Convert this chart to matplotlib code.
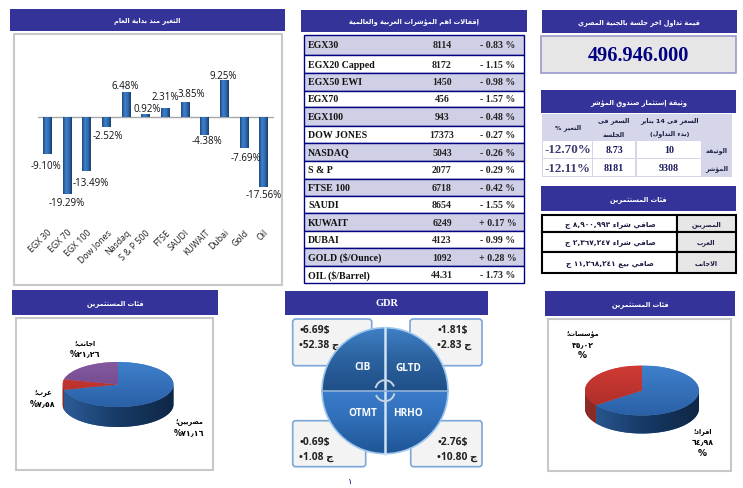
import unicodedata
import numpy as np
import matplotlib
matplotlib.use("Agg")
import matplotlib.pyplot as plt
from matplotlib.colors import LinearSegmentedColormap
from matplotlib.patches import Rectangle, Wedge, Arc, FancyBboxPatch, PathPatch
from matplotlib.path import Path

W, H = 743, 489
NAVY = "#333399"

# year to date bars
bar_names = ["EGX 30", "EGX 70", "EGX 100", "Dow Jones", "Nasdaq", "S & P 500", "FTSE",
             "SAUDI", "KUWAIT", "Dubai", "Gold", "Oil"]
bar_values = [-9.10, -19.29, -13.49, -2.52, 6.48, 0.92, 2.31, 3.85, -4.38, 9.25, -7.69, -17.56]
label_dx = [-1, 0, 4, 2, -1, 2, 0, 6, 2, -1, 2, 0]
label_dy = [12, 8, 12, 8, 6, 5, 12, 8, 6, 5, 10, 7]

# index table
index_names = ["EGX30", "EGX20 Capped", "EGX50 EWI", "EGX70", "EGX100", "DOW JONES", "NASDAQ",
               "S & P", "FTSE 100", "SAUDI", "KUWAIT", "DUBAI", "GOLD ($/Ounce)", "OIL ($/Barrel)"]
index_close = ["8114", "8172", "1450", "456", "943", "17373", "5043",
               "2077", "6718", "8654", "6249", "4123", "1092", "44.31"]
index_change = ["- 0.83 %", "- 1.15 %", "- 0.98 %", "- 1.57 %", "- 0.48 %", "- 0.27 %", "- 0.26 %",
                "- 0.29 %", "- 0.42 %", "- 1.55 %", "+ 0.17 %", "- 0.99 %", "+ 0.28 %", "- 1.73 %"]

# fund table
fund_rows = ["الوثيقة", "المؤشر"]
fund_start = ["10", "9308"]
fund_session = ["8.73", "8181"]
fund_change = ["-12.70%", "-12.11%"]

# investor table
investor_names = ["المصريين", "العرب", "الاجانب"]
investor_net = ["صافي شراء", "صافي شراء", "صافي بيع"]
investor_amount = ["٨,٩٠٠,٩٩٣", "٢,٣٦٧,٢٤٧", "١١,٢٦٨,٢٤١"]

# pies
pie1_values = [71.16, 7.58, 21.26]
pie2_values = [64.98, 35.02]

# GDR quadrants, clockwise from top right
gdr_names = ["GLTD", "HRHO", "OTMT", "CIB"]
gdr_usd = ["1.81$", "2.76$", "0.69$", "6.69$"]
gdr_egp = ["2.83", "10.80", "1.08", "52.38"]

RIGHT_ONLY = set("اأإآدذرزوؤةى")
NO_JOIN = set("ء")
MIRROR = {"(": ")", ")": "("}


def is_arabic_letter(ch):
    return "\u0621" <= ch <= "\u064a"


def shape_word(word):
    """Turn one logical Arabic word into visual order presentation forms."""
    word = word.replace("لا", "\ufefb").replace("لأ", "\ufef7").replace("لإ", "\ufef9")
    out = []
    for i, ch in enumerate(word):
        prev_ch = word[i - 1] if i > 0 else ""
        next_ch = word[i + 1] if i + 1 < len(word) else ""
        joins_prev = prev_ch and is_arabic_letter(prev_ch) and prev_ch not in RIGHT_ONLY | NO_JOIN
        if ch == "\ufefb":
            out.append("\ufefc" if joins_prev else ch)
            continue
        if ch == "\ufef7":
            out.append("\ufef8" if joins_prev else ch)
            continue
        if ch == "\ufef9":
            out.append("\ufefa" if joins_prev else ch)
            continue
        if not is_arabic_letter(ch):
            out.append(MIRROR.get(ch, ch))
            continue
        joins_next = (next_ch and (is_arabic_letter(next_ch) or next_ch in "\ufefb\ufef7\ufef9")
                      and ch not in RIGHT_ONLY | NO_JOIN)
        form = {(0, 0): "ISOLATED", (0, 1): "INITIAL", (1, 0): "FINAL", (1, 1): "MEDIAL"}[
            (int(bool(joins_prev)), int(bool(joins_next)))]
        try:
            out.append(unicodedata.lookup(unicodedata.name(ch) + " " + form + " FORM"))
        except KeyError:
            out.append(ch)
    return "".join(reversed(out))


def ar(text):
    """Visual order for mixed text, matplotlib has no bidi or joining."""
    tokens = []
    for tok in text.split(" "):
        if any(is_arabic_letter(c) for c in tok) or tok.startswith("("):
            tokens.append(shape_word(tok))
        else:
            tokens.append(tok)
    return " ".join(reversed(tokens))


def px_axes(left, top, right, bottom, **kw):
    return fig.add_axes([left / W, 1 - bottom / H, (right - left) / W, (bottom - top) / H], **kw)


def gradient(ax, extent, colors, clip, horizontal=False, zorder=2):
    cmap = LinearSegmentedColormap.from_list("g", colors)
    ramp = np.linspace(0, 1, 64)
    ramp = ramp.reshape(1, -1) if horizontal else ramp.reshape(-1, 1)
    xlim, ylim = ax.get_xlim(), ax.get_ylim()
    im = ax.imshow(ramp, extent=extent, cmap=cmap, origin="upper", aspect="auto", zorder=zorder)
    im.set_clip_path(clip)
    ax.set_xlim(xlim)
    ax.set_ylim(ylim)


def rect(left, top, right, bottom, fc="none", ec="none", lw=1.0, zorder=1):
    bg.add_patch(Rectangle((left, top), right - left, bottom - top, fc=fc, ec=ec, lw=lw, zorder=zorder))


def title_bar(left, top, right, bottom, text, latin=False):
    rect(left, top, right, bottom, fc=NAVY)
    bg.text((left + right) / 2, (top + bottom) / 2, text if latin else ar(text), color="white", ha="center",
            va="center", fontsize=7.5 if latin else 4.8, fontweight="bold",
            family="Liberation Serif" if latin else "DejaVu Sans", zorder=3)


def ar_text(x, y, text, size=4.6, color="#1a1a40", weight="bold", ha="center"):
    bg.text(x, y, ar(text), fontsize=size, color=color, fontweight=weight, ha=ha, va="center",
            family="DejaVu Sans", zorder=5)


def serif(x, y, text, size=7.1, color="black", ha="center"):
    bg.text(x, y, text, fontsize=size, color=color, fontweight="bold", ha=ha, va="center",
            family="Liberation Serif", zorder=5)


def pie_text(x, y, word, size=4.7):
    bg.text(x, y, word, fontsize=size, fontweight="bold", ha="center", va="center", family="DejaVu Sans", zorder=6)


def draw_pie(cx, cy, a, b, depth, values, faces, sides):
    ax = px_axes(cx - a, cy - b, cx + a, cy + b + depth)
    ax.patch.set_alpha(0)
    wedges, _ = ax.pie(values, colors=[f[0] for f in faces], startangle=90, counterclock=False, radius=1)
    ax.set_aspect("auto")
    d = depth / b
    ax.set_xlim(-1, 1)
    ax.set_ylim(-1 - d, 1)
    for wedge, face, side in zip(wedges, faces, sides):
        gradient(ax, (-1, 1, -1, 1), face, wedge, zorder=3)
        # side wall, only the front half of the disc shows
        t1, t2 = wedge.theta1 % 360, wedge.theta2 % 360
        if t2 <= t1:
            t2 += 360
        spans = [(max(t1, s), min(t2, s + 180)) for s in (180, 540) if max(t1, s) < min(t2, s + 180)]
        for lo, hi in spans:
            th = np.radians(np.linspace(lo, hi, 60))
            xs = np.concatenate([np.cos(th), np.cos(th[::-1])])
            ys = np.concatenate([np.sin(th), np.sin(th[::-1]) - d])
            poly = PathPatch(Path(np.column_stack([xs, ys])), fc=side[0], ec="none", zorder=1)
            ax.add_patch(poly)
            gradient(ax, (-1, 1, -1 - d, 1), side, poly, horizontal=True, zorder=2)


fig = plt.figure(figsize=(W / 100, H / 100), dpi=100, facecolor="white")
bg = fig.add_axes([0, 0, 1, 1])
bg.set_xlim(0, W)
bg.set_ylim(H, 0)
bg.axis("off")

# ---- top left, bar chart
title_bar(10, 10, 285, 32, "التغير منذ بداية العام")
rect(14, 34.5, 282, 285.5, fc="white", ec="#c8c8c8", lw=1.5)

px_per_unit = 3.98
top_px, zero_px, bottom_px = 50, 118.3, 227
ax = px_axes(37.5, top_px, 273.5, bottom_px)
ax.patch.set_alpha(0)
x = np.arange(len(bar_values))
ax.set_xlim(-0.5, 11.5)
ax.set_ylim((zero_px - bottom_px) / px_per_unit, (zero_px - top_px) / px_per_unit)
bars = ax.bar(x, bar_values, width=0.44, color="#2f6bb0", zorder=2)
for rct, val, dx, dy in zip(bars, bar_values, label_dx, label_dy):
    x0, w = rct.get_x(), rct.get_width()
    y0, y1 = min(0, val), max(0, val)
    gradient(ax, (x0, x0 + w, y0, y1), ["#1d4a80", "#3f7fca", "#2f6bb0", "#173d6c"], rct, horizontal=True, zorder=3)
    sign = 1 if val > 0 else -1
    ax.annotate("%.2f%%" % val, (rct.get_x() + w / 2, val), xytext=(dx * 0.72, sign * dy * 0.72),
                textcoords="offset points", ha="center", va="center", fontsize=7, family="Open Sans",
                color="#111111", zorder=6)
ax.axhline(0, color="#a8a8a8", lw=1, zorder=1)
for side in ax.spines.values():
    side.set_visible(False)
ax.set_yticks([])
ax.set_xticks(x, bar_names, rotation=45, ha="right", rotation_mode="anchor", fontsize=6.3, family="Open Sans",
              color="#222222")
ax.tick_params(axis="x", length=0, pad=1)

# ---- middle, index table
title_bar(301, 11, 527, 33, "إقفالات اهم المؤشرات العربية والعالمية")
row_lines = [36, 56, 74, 91.7, 108, 127, 144.3, 162, 179.7, 197.3, 214, 232, 249.3, 267, 284.3]
for i, name in enumerate(index_names):
    top, bottom = row_lines[i], row_lines[i + 1]
    rect(304.3, top, 523.7, bottom, fc="#cfd0e6" if i % 2 == 0 else "white", ec="#000080", lw=1.0)
    mid = (top + bottom) / 2
    serif(308, mid, name, ha="left", color="#111111")
    serif(442, mid, index_close[i], color="#222222")
    serif(497.7, mid, index_change[i], color="#222222")

# ---- top right
title_bar(542, 11, 736.5, 34, "قيمة تداول اخر جلسة بالجنية المصري")
rect(541, 37, 736, 73.5, fc="#e6e6e6", ec="#9999cc", lw=1.2)
serif(638, 56, "496.946.000", size=14.6, color="#000080")

title_bar(541, 91, 736, 114, "وثيقة إستثمار صندوق المؤشر")
rect(542, 115, 732, 178, fc="#d5d6ea")
ar_text(567.7, 128, "التغير %")
ar_text(614, 121, "السعر فى")
ar_text(614, 134, "الجلسة")
ar_text(670, 121, "السعر فى 14 يناير")
ar_text(670, 134, "(بدء التداول)")
for i, (top, bottom) in enumerate([(142, 158.7), (160, 177)]):
    mid = (top + bottom) / 2
    rect(543, top, 591.7, bottom, fc="white")
    rect(593.3, top, 635, bottom, fc="white")
    rect(636.7, top, 700.7, bottom, fc="white")
    ar_text(716.7, mid, fund_rows[i])
    serif(669, mid, fund_start[i], size=7.2, color="#1a1a60")
    serif(614, mid, fund_session[i], size=7.2, color="#1a1a60")
    serif(567.5, mid, fund_change[i], size=9.4, color="#3a3a70")

title_bar(541, 187, 736, 212, "فئات المستثمرين")
inv_lines = [216, 232.5, 253, 274]
for i, name in enumerate(investor_names):
    top, bottom = inv_lines[i], inv_lines[i + 1]
    mid = (top + bottom) / 2
    rect(541.5, top, 677, bottom, fc="white", ec="black", lw=1.5)
    rect(677, top, 735.5, bottom, fc="#e6e6e6", ec="black", lw=1.5)
    ar_text(706, mid, name)
    ar_text(610, mid, investor_net[i] + " " + investor_amount[i] + " ج", size=5.3)

# ---- bottom left, pie
title_bar(12, 291, 218, 316, "فئات المستثمرين")
rect(15.5, 318.5, 213, 471, fc="white", ec="#c8c8c8", lw=1.5)
draw_pie(118, 385.5, 55.5, 22.5, 20, pie1_values,
         [["#3f80cc", "#2a60a6"], ["#d43c36", "#a82c28"], ["#84589e", "#6a4488"]],
         [["#2c5c98", "#173a66", "#0f2745"], ["#8c2a26", "#8c2a26"], ["#5a3a70", "#5a3a70"]])
for (tx, ty, word, pct) in [(85, 343, "اجانب؛", "%٢١٫٢٦"), (43, 392.7, "عرب؛", "%٧٫٥٨"),
                            (189, 422, "مصريين؛", "%٧١٫١٦")]:
    pie_text(tx, ty, ar(word))
    pie_text(tx, ty + 11, pct, size=5.8)

# ---- bottom right, pie
title_bar(545, 292, 735, 317, "فئات المستثمرين")
rect(548, 319.5, 730.5, 472, fc="white", ec="#c8c8c8", lw=1.5)
draw_pie(642, 391.5, 57, 25, 18, pie2_values,
         [["#3f80cc", "#2a60a6"], ["#cf3a34", "#a82c28"]],
         [["#2c5c98", "#173a66", "#0f2745"], ["#8c2a26", "#a02c28"]])
for (tx, ty, word, pct) in [(582.7, 334, "مؤسسات؛", "٣٥٫٠٢"), (702.7, 431.7, "افراد؛", "٦٤٫٩٨")]:
    pie_text(tx, ty, ar(word))
    pie_text(tx, ty + 10.5, pct, size=5.6)
    pie_text(tx, ty + 22, "%", size=6.5)

# ---- bottom middle, GDR circle
title_bar(285, 292, 488, 316, "GDR", latin=True)
box_rects = [(410, 320, 482, 366.7), (410.7, 421.7, 482, 467.7), (292.7, 421.7, 365.7, 467.7), (292.7, 320, 371.7, 366.7)]
box_text_x = [437, 437, 299, 299]
box_text_y = [330.7, 443, 443, 330.7]
for i, (l, t, r, b) in enumerate(box_rects):
    bg.add_patch(FancyBboxPatch((l + 2, t + 2), r - l - 4, b - t - 4, boxstyle="round,pad=2,rounding_size=3",
                                fc="#f3f3f3", ec="#7aa6d8", lw=1.2, zorder=2))
    for j, val in enumerate([gdr_usd[i], gdr_egp[i] + " ج"]):
        bg.text(box_text_x[i], box_text_y[i] + j * 14.4, "•" + val, fontsize=7.4, fontweight="bold", color="#222222",
                ha="left", va="center", family=["Open Sans", "DejaVu Sans"], zorder=3)

cx, cy, radius = 385, 391.7, 63
quadrants = [(270, 360), (0, 90), (90, 180), (180, 270)]
label_xy = [(408, 368.5), (407.5, 414), (363, 414), (362.5, 368)]
for i, (t1, t2) in enumerate(quadrants):
    wedge = Wedge((cx, cy), radius, t1, t2, fc="#2a6099", ec="none", zorder=3)
    bg.add_patch(wedge)
    upper = t1 >= 180
    colors = ["#3f7fc4", "#2b629f", "#1f4f88"] if upper else ["#3a7ccb", "#2f6cb5", "#1e5596"]
    ext = (cx - radius, cx + radius, cy, cy - radius) if upper else (cx - radius, cx + radius, cy + radius, cy)
    gradient(bg, ext, colors, wedge, zorder=4)
    bg.text(label_xy[i][0], label_xy[i][1], gdr_names[i], color="white", fontsize=7.2, fontweight="bold", ha="center",
            va="center", family="Open Sans", zorder=8)
bg.add_patch(Wedge((cx, cy), radius, 0, 360, fc="none", ec="#9cc6ee", lw=1.2, zorder=6))
bg.plot([cx, cx], [cy - radius, cy + radius], color="#cfe3f5", lw=1.8, zorder=6)
bg.plot([cx - radius, cx + radius], [cy, cy], color="#8fb2d6", lw=1.2, zorder=6)
bg.add_patch(Arc((cx, cy - 1), 19, 19, theta1=190, theta2=340, color="#c8d4e0", lw=1.4, zorder=7))
bg.add_patch(Arc((cx, cy + 1), 19, 19, theta1=10, theta2=160, color="#c8d4e0", lw=1.4, zorder=7))

bg.text(350, 482, "١", fontsize=6, color="#000080", ha="center", va="center", family="DejaVu Sans")

fig.savefig("out.png", dpi=100)
